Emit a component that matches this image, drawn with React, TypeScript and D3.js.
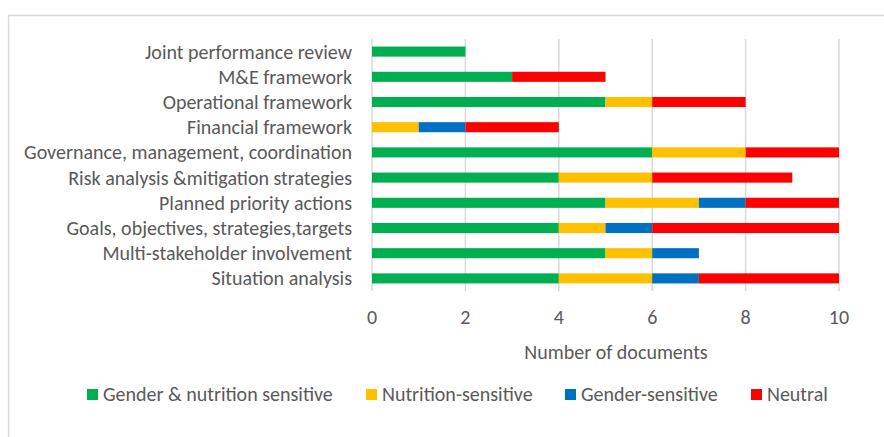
import React, { useEffect, useRef } from "react";
import * as d3 from "d3";

const categories = [
  "Joint performance review",
  "M&E framework",
  "Operational framework",
  "Financial framework",
  "Governance, management, coordination",
  "Risk analysis &mitigation strategies",
  "Planned priority actions",
  "Goals, objectives, strategies,targets",
  "Multi-stakeholder involvement",
  "Situation analysis",
];

const seriesNames = [
  "Gender & nutrition sensitive",
  "Nutrition-sensitive",
  "Gender-sensitive",
  "Neutral",
];

// values per category, same order as categories
const genderNutrition = [2, 3, 5, 0, 6, 4, 5, 4, 5, 4];
const nutritionOnly = [0, 0, 1, 1, 2, 2, 2, 1, 1, 2];
const genderOnly = [0, 0, 0, 1, 0, 0, 1, 1, 1, 1];
const neutral = [0, 2, 2, 2, 2, 3, 2, 4, 0, 3];

const xTicks = [0, 2, 4, 6, 8, 10];
const colors = ["#00B050", "#FFC000", "#0070C0", "#FF0000"];

const FONT = "Carlito, Calibri, Lato, sans-serif";
const TEXT = "#595959";

const App = () => {
  const ref = useRef(null);

  useEffect(() => {
    const svg = d3.select(ref.current);
    svg.selectAll("*").remove();

    const width = 884;
    const height = 437;
    const plotLeft = 372;
    const plotRight = 839;
    const plotTop = 39;
    const plotBottom = 291;

    // chart frame
    svg
      .append("rect")
      .attr("x", 8.5)
      .attr("y", 15.5)
      .attr("width", width + 20)
      .attr("height", height + 20)
      .attr("fill", "white")
      .attr("stroke", "#d9d9d9")
      .attr("stroke-width", 1.5);

    const x = d3.scaleLinear().domain([0, 10]).range([plotLeft, plotRight]);
    const y = d3
      .scaleBand()
      .domain(categories)
      .range([plotTop, plotBottom])
      .paddingInner(0.6)
      .paddingOuter(0.3);

    // gridlines
    svg
      .append("g")
      .selectAll("line")
      .data(xTicks)
      .join("line")
      .attr("x1", (d) => x(d))
      .attr("x2", (d) => x(d))
      .attr("y1", plotTop)
      .attr("y2", plotBottom)
      .attr("stroke", "#d9d9d9")
      .attr("stroke-width", 1.5);

    const table = categories.map((c, i) => ({
      category: c,
      s0: genderNutrition[i],
      s1: nutritionOnly[i],
      s2: genderOnly[i],
      s3: neutral[i],
    }));
    const stacked = d3.stack().keys(["s0", "s1", "s2", "s3"])(table);

    svg
      .append("g")
      .selectAll("g")
      .data(stacked)
      .join("g")
      .attr("fill", (_, i) => colors[i])
      .selectAll("rect")
      .data((s) => s.filter((d) => d[1] - d[0] > 0))
      .join("rect")
      .attr("x", (d) => x(d[0]))
      .attr("width", (d) => x(d[1]) - x(d[0]))
      .attr("y", (d) => y(d.data.category))
      .attr("height", y.bandwidth());

    // category labels
    svg
      .append("g")
      .selectAll("text")
      .data(categories)
      .join("text")
      .attr("x", 352)
      .attr("y", (d) => y(d) + y.bandwidth() / 2)
      .attr("dy", "0.35em")
      .attr("text-anchor", "end")
      .attr("font-family", FONT)
      .attr("font-size", 20)
      .attr("fill", TEXT)
      .text((d) => d);

    // x tick labels
    svg
      .append("g")
      .selectAll("text")
      .data(xTicks)
      .join("text")
      .attr("x", (d) => x(d))
      .attr("y", 324)
      .attr("text-anchor", "middle")
      .attr("font-family", FONT)
      .attr("font-size", 20)
      .attr("fill", TEXT)
      .text((d) => d);

    svg
      .append("text")
      .attr("x", 616)
      .attr("y", 359)
      .attr("text-anchor", "middle")
      .attr("font-family", FONT)
      .attr("font-size", 20)
      .attr("fill", TEXT)
      .text("Number of documents");

    // legend
    const legendX = [87, 366, 565, 751];
    const lg = svg
      .append("g")
      .selectAll("g")
      .data(seriesNames)
      .join("g")
      .attr("transform", (_, i) => `translate(${legendX[i]},389)`);
    lg.append("rect")
      .attr("width", 11)
      .attr("height", 11)
      .attr("fill", (_, i) => colors[i]);
    lg.append("text")
      .attr("x", 16)
      .attr("y", 12)
      .attr("font-family", FONT)
      .attr("font-size", 20)
      .attr("fill", TEXT)
      .text((d) => d);
  }, []);

  return (
    <svg
      ref={ref}
      width={884}
      height={437}
      style={{ position: "absolute", left: 0, top: 0, background: "white" }}
    />
  );
};

export default App;
